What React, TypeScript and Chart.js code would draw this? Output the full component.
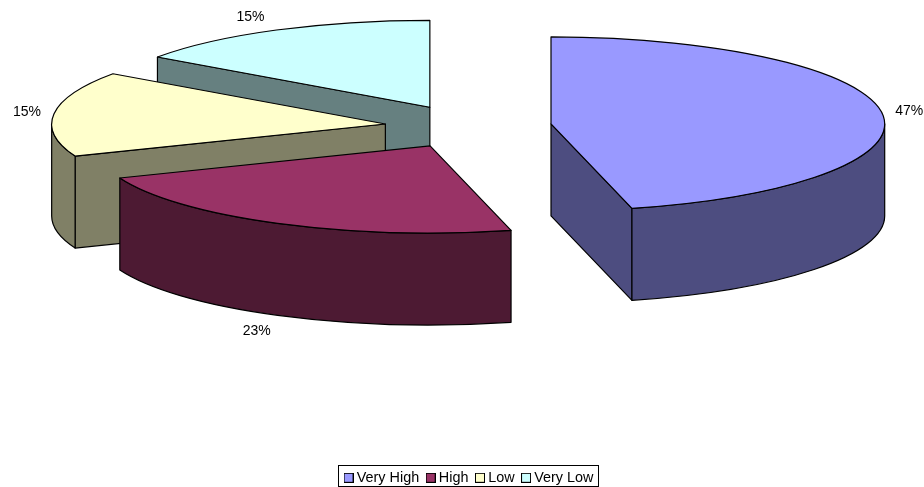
import React, { useEffect, useRef } from "react";
import { Chart, registerables, PieController } from "chart.js";

const categories = ["Very High", "High", "Low", "Very Low"];
const sliceValues = [46.1, 22.9, 15.8, 15.2];
const percentLabels = ["47%", "23%", "15%", "15%"];
const explosion = [0.25, 0.25, 0.25, 0.25];
const topColors = ["#9999FF", "#993366", "#FFFFCC", "#CCFFFF"];
const sideColors = ["#4D4D80", "#4D1A33", "#808066", "#668080"];

const FONT = '14px "Liberation Sans", Arial, sans-serif';
const PIE = { cx: 468.2, cy: 126.6, rx: 333.7, ry: 87, depth: 92 };
const LABEL_NUDGE = [[1, 0], [5, 2], [-1, 0], [0, 1]];

class Pie3DController extends PieController {
  static id = "pie3d";
  draw() {
    const ctx = this.chart.ctx;
    const arcs: any[] = this.getMeta().data as any[];
    const ds: any = this.getDataset();
    const { rx, ry, depth } = PIE;
    ctx.save();
    ctx.lineWidth = 1.2;
    ctx.strokeStyle = "#000";
    ctx.lineJoin = "round";
    for (let i = arcs.length - 1; i >= 0; i--) {
      const s = arcs[i].startAngle;
      const e = arcs[i].endAngle;
      const mid = (s + e) / 2;
      const k = ds.explode[i];
      const cx = PIE.cx + k * rx * Math.cos(mid);
      const cy = PIE.cy + k * ry * Math.sin(mid);
      const side = ds.sideColor[i];
      const wall = (a: number) => {
        const x = cx + rx * Math.cos(a);
        const y = cy + ry * Math.sin(a);
        ctx.beginPath();
        ctx.moveTo(cx, cy);
        ctx.lineTo(x, y);
        ctx.lineTo(x, y + depth);
        ctx.lineTo(cx, cy + depth);
        ctx.closePath();
        ctx.fillStyle = side;
        ctx.fill();
        ctx.stroke();
      };
      // cut faces turned toward the viewer
      if (Math.sin(s + Math.PI / 2) < -1e-6) wall(s);
      if (Math.sin(e + Math.PI / 2) > 1e-6) wall(e);
      // outer rim: only the front half of the ellipse shows
      const a = Math.max(s, 0);
      const b = Math.min(e, Math.PI);
      if (b > a) {
        ctx.beginPath();
        ctx.ellipse(cx, cy, rx, ry, 0, a, b);
        ctx.ellipse(cx, cy + depth, rx, ry, 0, b, a, true);
        ctx.closePath();
        ctx.fillStyle = side;
        ctx.fill();
        ctx.stroke();
      }
      // top face
      ctx.beginPath();
      ctx.moveTo(cx, cy);
      ctx.ellipse(cx, cy, rx, ry, 0, s, e);
      ctx.closePath();
      ctx.fillStyle = ds.backgroundColor[i];
      ctx.fill();
      ctx.stroke();
    }
    ctx.restore();
  }
}

Chart.register(...registerables, Pie3DController);

function swatch(color: string) {
  const c = document.createElement("canvas");
  c.width = 10;
  c.height = 10;
  const g = c.getContext("2d")!;
  g.fillStyle = color;
  g.fillRect(0.5, 0.5, 9, 9);
  g.strokeStyle = "#000";
  g.lineWidth = 1;
  g.strokeRect(0.5, 0.5, 9, 9);
  return c;
}

const percentPlugin = {
  id: "percentLabels",
  afterDraw(chart: any) {
    const ctx = chart.ctx;
    const arcs = chart.getDatasetMeta(0).data;
    ctx.save();
    ctx.font = FONT;
    ctx.fillStyle = "#000";
    ctx.textAlign = "center";
    ctx.textBaseline = "middle";
    arcs.forEach((arc: any, i: number) => {
      const mid = (arc.startAngle + arc.endAngle) / 2;
      const k = explosion[i];
      const c = Math.cos(mid);
      const sn = Math.sin(mid);
      const x = PIE.cx + (k + 1) * PIE.rx * c + Math.sign(c) * 26 + LABEL_NUDGE[i][0];
      const y = PIE.cy + (k + 1) * PIE.ry * sn + (sn > 0 ? PIE.depth : 0) + sn * 16 + LABEL_NUDGE[i][1];
      ctx.fillText(percentLabels[i], x, y);
    });
    ctx.restore();
  },
};

const legendFrame = {
  id: "legendFrame",
  afterDraw(chart: any) {
    const boxes = chart.legend?.legendHitBoxes;
    if (!boxes || !boxes.length) return;
    const ctx = chart.ctx;
    ctx.save();
    ctx.strokeStyle = "#000";
    ctx.lineWidth = 1;
    ctx.strokeRect(338.5, 465.5, 260, 21);
    ctx.restore();
  },
};

export default function App() {
  const ref = useRef<HTMLCanvasElement>(null);
  useEffect(() => {
    const chart = new Chart(ref.current!, {
      type: "pie3d" as any,
      data: {
        labels: categories,
        datasets: [
          {
            data: sliceValues,
            backgroundColor: topColors,
            borderWidth: 0,
            explode: explosion,
            sideColor: sideColors,
          } as any,
        ],
      },
      options: {
        responsive: false,
        animation: false,
        devicePixelRatio: 1,
        layout: { padding: { left: 17, right: 0, top: 0, bottom: -8 } },
        plugins: {
          tooltip: { enabled: false },
          legend: {
            display: true,
            position: "bottom",
            labels: {
              usePointStyle: true,
              pointStyleWidth: 2,
              boxHeight: 9,
              padding: 10.5,
              color: "#000",
              font: { family: '"Liberation Sans", Arial, sans-serif', size: 14.4 },
              generateLabels: () =>
                categories.map((text, i) => ({
                  text,
                  fillStyle: topColors[i],
                  strokeStyle: "#000",
                  lineWidth: 1,
                  pointStyle: swatch(topColors[i]),
                  hidden: false,
                  index: i,
                })),
            },
          },
        },
      } as any,
      plugins: [percentPlugin, legendFrame],
    });
    return () => chart.destroy();
  }, []);
  return (
    <div style={{ position: "absolute", left: 0, top: 0, width: 924, height: 487, background: "#fff" }}>
      <canvas ref={ref} width={924} height={487} style={{ display: "block" }} />
    </div>
  );
}
